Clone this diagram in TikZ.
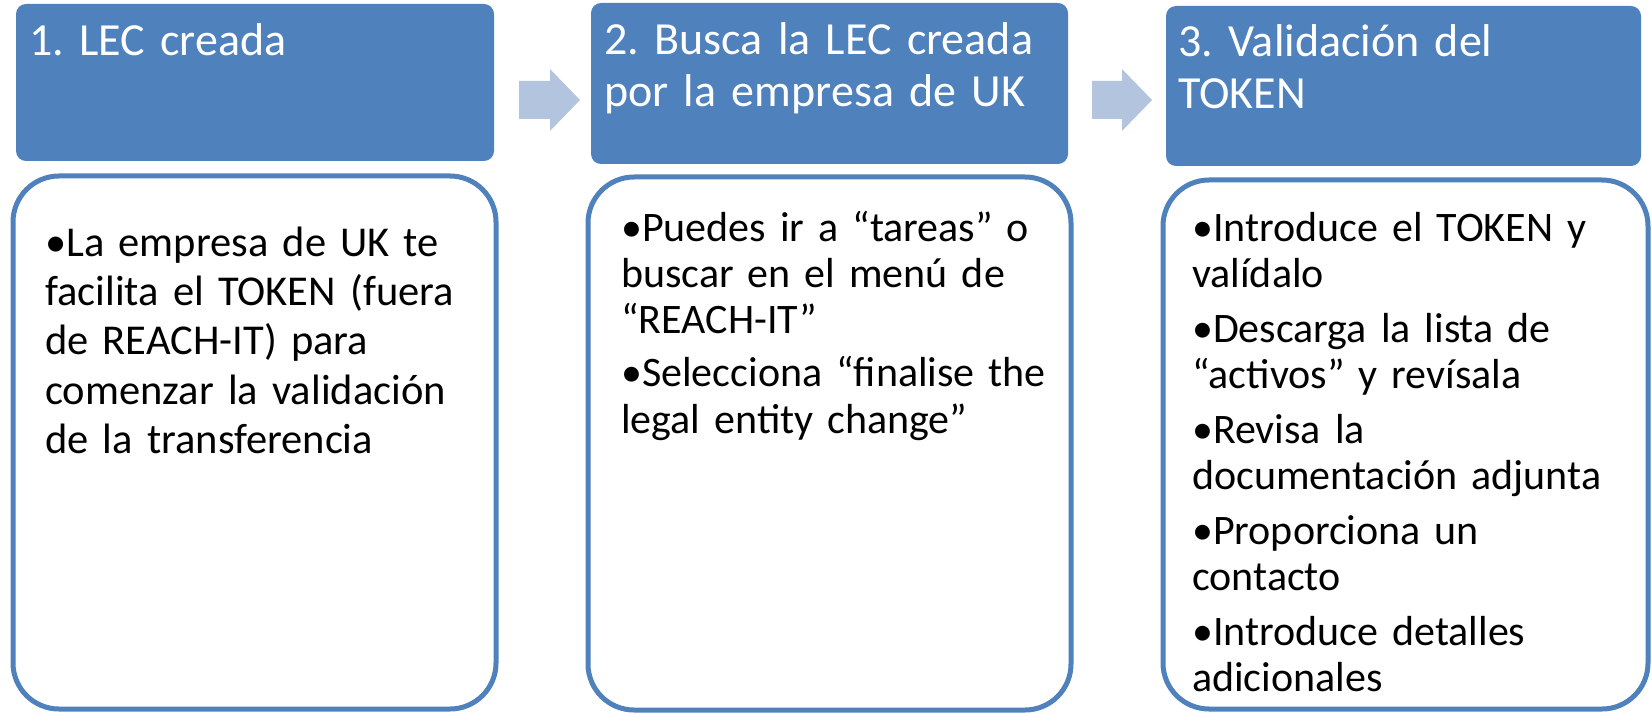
\documentclass[tikz,border=0pt]{standalone}
\usepackage{fontspec}
\setmainfont{Carlito}
\frenchspacing
\definecolor{hdr}{HTML}{4F81BD}
\definecolor{arr}{HTML}{B3C4DF}
\newcommand{\itm}[1]{\noindent\hangindent=8pt\hangafter=1 •#1\par}
\begin{document}
\begin{tikzpicture}[x=1pt,y=-1pt,
  hdrbox/.style={fill=hdr, rounded corners=10pt, inner sep=0pt, outer sep=0pt, anchor=north west},
  bodybox/.style={draw=hdr, line width=5pt, rounded corners=46pt, fill=white, inner sep=0pt, outer sep=0pt, anchor=north west},
  hdrtext/.style={anchor=base west, inner sep=0pt, text=white, font=\fontsize{46}{52}\selectfont, align=left, text width=460pt},
  bodytext/.style={anchor=base west, inner sep=0pt, text=black, font=\fontsize{42}{46.3}\selectfont, align=left, text width=450pt},
  arrowshape/.style={fill=arr}]
\useasboundingbox (0,0) rectangle (1652,714);
% header boxes
\node[hdrbox, minimum width=478pt, minimum height=157pt] (h1) at (16,4) {};
\node[hdrbox, minimum width=477pt, minimum height=161pt] (h2) at (591,3) {};
\node[hdrbox, minimum width=475pt, minimum height=160pt] (h3) at (1166,6) {};
% body boxes
\node[bodybox, minimum width=483pt, minimum height=533pt] (b1) at (13,176) {};
\node[bodybox, minimum width=483pt, minimum height=533pt] (b2) at (588,177) {};
\node[bodybox, minimum width=485pt, minimum height=529pt] (b3) at (1163,180) {};
% arrows
\fill[arrowshape] (519,81) -- (550,81) -- (550,69) -- (580,100) -- (550,131) -- (550,119) -- (519,119) -- cycle;
\fill[arrowshape] (1092,81) -- (1122,81) -- (1122,69) -- (1152,100) -- (1122,131) -- (1122,119) -- (1092,119) -- cycle;
% header texts
\node[hdrtext] (t1) at (29,56) {1. LEC creada};
\node[hdrtext] (t2) at (604,55) {2. Busca la LEC creada\\por la empresa de UK};
\node[hdrtext] (t3) at (1178,57) {3. Validación del\\TOKEN};
% body texts
\node[bodytext, font=\fontsize{42.5}{49.5}\selectfont] (c1) at (45,256) {%
\itm{La empresa de UK te\\facilita el TOKEN (fuera\\de REACH-IT) para\\comenzar la validación\\de la transferencia}};
\node[bodytext] (c2) at (621,241) {\setlength{\parskip}{7pt}%
\itm{Puedes ir a “tareas” o\\buscar en el menú de\\“REACH-IT”}%
\itm{Selecciona “finalise the\\legal entity change”}};
\node[bodytext] (c3) at (1192,241) {\setlength{\parskip}{8.5pt}%
\itm{Introduce el TOKEN y\\valídalo}%
\itm{Descarga la lista de\\“activos” y revísala}%
\itm{Revisa la\\documentación adjunta}%
\itm{Proporciona un\\contacto}%
\itm{Introduce detalles\\adicionales}};
\end{tikzpicture}
\end{document}
